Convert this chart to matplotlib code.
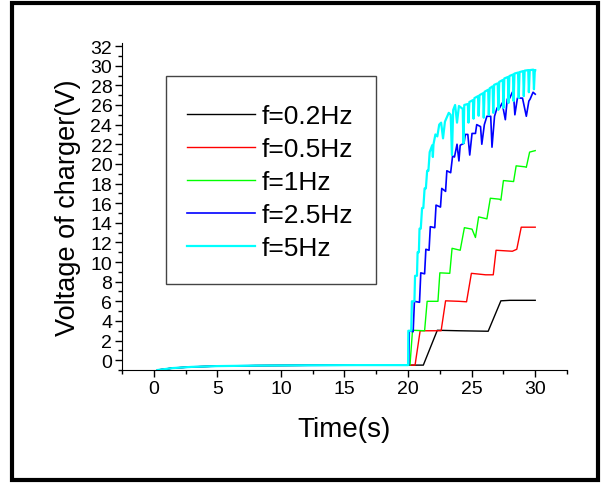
import matplotlib.pyplot as plt
from matplotlib.patches import Rectangle
from matplotlib.ticker import MultipleLocator

plt.rcParams['font.family'] = ['Liberation Sans', 'DejaVu Sans']

# shared low baseline before the charger starts (0-20 s)
t_base = [0.3, 1.5, 3.0, 5.0, 8.0, 12.0, 16.0, 20.0]
v_base = [-1.0, -0.8, -0.68, -0.6, -0.55, -0.52, -0.5, -0.5]

# f = 0.2 Hz
t_02 = [21.2, 22.3, 24.0, 26.3, 27.3, 28.0, 30.0]
v_02 = [-0.5, 3.05, 3.0, 2.95, 6.05, 6.1, 6.1]

# f = 0.5 Hz
t_05 = [20.55, 20.95, 22.0, 22.6, 22.95, 24.0, 24.6, 24.98, 26.1, 26.7,
        26.92, 28.2, 28.55, 28.9, 30.0]
v_05 = [-0.5, 3.0, 3.0, 3.0, 6.05, 6.0, 5.95, 8.85, 8.7, 8.7,
        11.2, 11.1, 11.3, 13.55, 13.55]

# f = 1 Hz
t_1 = [20.15, 20.35, 21.3, 21.5, 22.35, 22.5, 23.28, 23.46, 24.1, 24.43,
       25.03, 25.3, 25.55, 26.2, 26.47, 27.2, 27.3, 27.5, 28.3, 28.5,
       29.2, 29.3, 29.56, 30.0]
v_1 = [-0.5, 3.05, 3.0, 6.0, 6.0, 8.9, 8.85, 11.4, 11.2, 13.5,
       13.35, 12.5, 14.6, 14.4, 16.5, 16.4, 16.3, 18.3, 18.2, 19.8,
       19.7, 19.65, 21.2, 21.35]

# f = 2.5 Hz
t_25 = [20.05, 20.1, 20.4, 20.5, 20.9, 21.0, 21.3, 21.4, 21.65, 21.75,
        22.1, 22.2, 22.55, 22.65, 22.95, 23.05, 23.35, 23.5, 23.65, 23.85,
        24.0, 24.1, 24.4, 24.5, 24.7, 24.85, 25.03, 25.3, 25.4, 25.7,
        25.8, 26.0, 26.2, 26.5, 26.6, 26.8, 27.0, 27.2, 27.4, 27.65,
        27.8, 28.0, 28.2, 28.3, 28.4, 28.6, 29.0, 29.3, 29.5, 29.6,
        29.83, 30.0]
v_25 = [-0.5, 3.0, 2.9, 6.0, 5.9, 8.9, 8.8, 11.3, 11.2, 13.6,
        13.5, 15.8, 15.6, 17.5, 17.2, 19.3, 19.1, 20.8, 20.7, 22.0,
        20.3, 21.9, 22.1, 23.0, 23.0, 20.9, 23.1, 23.1, 24.0, 23.8,
        22.0, 24.0, 24.85, 24.85, 21.7, 24.85, 25.7, 25.7, 26.2, 24.5,
        26.6, 26.7, 27.3, 27.0, 25.0, 26.7, 26.7, 24.85, 26.4, 26.6,
        27.3, 27.1]

# f = 5 Hz
t_5 = [20.0, 20.02, 20.25, 20.3, 20.5, 20.55, 20.7, 20.75, 20.85, 20.9,
       21.0, 21.1, 21.2, 21.3, 21.4, 21.5, 21.6, 21.7, 21.9, 21.95,
       22.0, 22.15, 22.3, 22.45, 22.6, 22.75, 22.9, 23.2, 23.35, 23.45,
       23.55, 23.7, 23.85, 24.0, 24.3, 24.35, 24.42, 24.7, 24.75, 24.82,
       25.1, 25.15, 25.22, 25.5, 25.55, 25.62, 25.9, 25.95, 26.02, 26.3,
       26.35, 26.42, 26.65, 26.7, 26.77, 27.05, 27.1, 27.17, 27.45, 27.5,
       27.57, 27.85, 27.9, 27.97, 28.25, 28.3, 28.37, 28.65, 28.7, 28.77,
       29.05, 29.1, 29.17, 29.45, 29.5, 29.57, 29.85, 29.9, 29.97, 30.0]
v_5 = [-0.5, 3.0, 3.0, 6.0, 6.0, 8.6, 8.6, 11.0, 11.0, 13.4,
       13.4, 15.5, 15.5, 17.5, 17.5, 19.3, 19.3, 21.2, 21.9, 20.7,
       22.0, 23.0, 22.8, 24.0, 24.2, 22.6, 24.3, 25.2, 25.0, 20.9,
       25.5, 26.0, 24.2, 25.9, 25.6, 22.1, 26.0, 26.1, 24.2, 26.3,
       26.5, 24.6, 26.7, 26.9, 24.9, 27.0, 27.2, 24.7, 27.35, 27.55,
       25.0, 27.7, 27.9, 25.2, 28.05, 28.2, 25.5, 28.35, 28.55, 25.7,
       28.7, 28.85, 26.2, 28.95, 29.1, 26.4, 29.2, 29.3, 26.7, 29.35,
       29.45, 26.9, 29.5, 29.55, 27.3, 29.55, 29.6, 27.6, 29.55, 29.55]

labels = ['f=0.2Hz', 'f=0.5Hz', 'f=1Hz', 'f=2.5Hz', 'f=5Hz']
series = [(t_02, v_02), (t_05, v_05), (t_1, v_1), (t_25, v_25), (t_5, v_5)]
colors = ['black', '#ff0000', '#00ff00', '#0000ff', '#00ffff']
widths = [1.0, 1.0, 1.0, 1.2, 1.6]

fig = plt.figure(figsize=(6.03, 4.85), dpi=100)
ax = fig.add_axes([0.2023, 0.235, 0.738, 0.674])

for (tt, vv), c, lw, lab in zip(series, colors, widths, labels):
    ax.plot(t_base + tt, v_base + vv, color=c, lw=lw, label=lab)

ax.set_xlim(-2.5, 32.5)
ax.set_ylim(-1, 32.3)
ax.xaxis.set_minor_locator(MultipleLocator(2.5))
ax.yaxis.set_minor_locator(MultipleLocator(1))
ax.set_xticks(range(0, 31, 5))
ax.set_yticks(range(0, 33, 2))
ax.tick_params(which='major', direction='out', length=5, width=1, labelsize=14, pad=2)
ax.tick_params(which='minor', direction='out', length=3, width=1)

for s in ['top', 'right']:
    ax.spines[s].set_visible(False)

ax.set_xlabel('Time(s)', fontsize=20, labelpad=14)
ax.set_ylabel('Voltage of charger(V)', fontsize=19.5, labelpad=7)

# legend entries without frame, box drawn separately
ax.legend(loc='upper left', bbox_to_anchor=(0.146, 0.8135), fontsize=19,
          frameon=False, handlelength=2.58, handletextpad=0.26,
          labelspacing=0.34, borderpad=0, borderaxespad=0)
ax.add_patch(Rectangle((0.099, 0.263), 0.472, 0.636, transform=ax.transAxes,
                       fill=False, lw=1.0, ec='#444444', zorder=5))

# thick frame around the whole picture
fig.patches.append(Rectangle((12 / 603, 4 / 485), 586 / 603, 477 / 485,
                             transform=fig.transFigure, fill=False,
                             lw=3, ec='black'))

fig.savefig('out.png', dpi=100)
